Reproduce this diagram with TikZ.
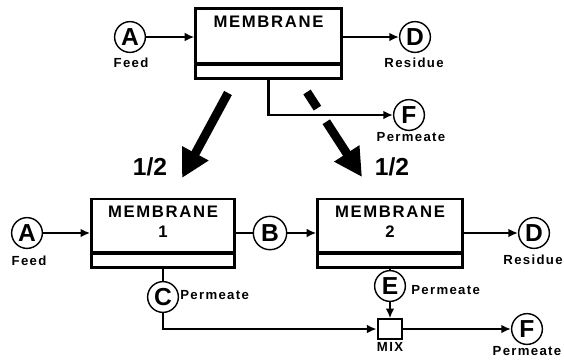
\documentclass[tikz,border=0pt]{standalone}
\usepackage{fontspec}
\setmainfont{Liberation Sans}
\newfontfamily\tagfont[LetterSpace=10]{Liberation Sans}
\usetikzlibrary{arrows.meta,calc}

\tikzset{
  stream/.style={circle, draw, line width=0.8pt, minimum size=17.5pt, inner sep=0pt, font=\bfseries\fontsize{14}{14}\selectfont},
  membox/.style={draw, line width=1.4pt, minimum width=83pt, minimum height=40pt, inner sep=0pt},
  memtext/.style={inner sep=0pt, align=center, font=\tagfont\bfseries\fontsize{9.5}{11.3}\selectfont},
  tag/.style={inner sep=0pt, font=\tagfont\bfseries\fontsize{7.5}{9}\selectfont},
  pipe/.style={line width=1.3pt},
  flow/.style={pipe, -{Latex[length=5.5pt,width=5pt]}},
  fat/.style={line width=5pt},
  half/.style={inner sep=0pt, font=\bfseries\fontsize{14}{14}\selectfont},
}

\begin{document}
\begin{tikzpicture}[x=0.02cm, y=-0.02cm]
  \useasboundingbox (0,0) rectangle (564,360);

  % Single membrane
  \node[membox] (m0) at (268.5,43.5) {};
  \node[memtext, anchor=north] (m0t) at ([yshift=-5pt]m0.north) {MEMBRANE};
  \draw[line width=2.3pt] ([yshift=9.3pt]m0.south west) -- ([yshift=9.3pt]m0.south east);

  \node[stream] (a0) at (130,37) {A};
  \node[tag] (a0t) at (131,63) {Feed};
  \node[stream] (d0) at (415,37) {D};
  \node[tag] (d0t) at (414,63) {Residue};
  \node[stream] (f0) at (409,115) {F};
  \node[tag] (f0t) at (411,137) {Permeate};

  \draw[flow] (a0) -- (a0 -| m0.west);
  \draw[flow] (m0.east |- d0) -- (d0);
  \draw[flow] (m0.south) |- (f0);

  % Split into two halves
  \coordinate (s1) at (228,93);
  \coordinate (t1) at (182,178);
  \coordinate (s2) at (307,92);
  \coordinate (t2) at (362,177);
  \draw[fat, -{Triangle[length=16pt,width=16pt]}] (s1) -- (t1);
  \draw[fat] (s2) -- ($(s2)!0.19!(t2)$);
  \draw[fat, -{Triangle[length=16pt,width=16pt]}] ($(s2)!0.35!(t2)$) -- (t2);
  \node[half] (h1) at (150,167) {1/2};
  \node[half] (h2) at (392,167) {1/2};

  % Two membranes in series
  \node[membox, minimum width=81.5pt, minimum height=39pt] (m1) at (163,233) {};
  \node[memtext, anchor=north] (m1t) at ([yshift=-4.5pt]m1.north) {MEMBRANE\\1};
  \draw[line width=2.3pt] ([yshift=9pt]m1.south west) -- ([yshift=9pt]m1.south east);
  \node[membox, minimum width=82.5pt, minimum height=39pt] (m2) at (390,233) {};
  \node[memtext, anchor=north] (m2t) at ([yshift=-4.5pt]m2.north) {MEMBRANE\\2};
  \draw[line width=2.3pt] ([yshift=9pt]m2.south west) -- ([yshift=9pt]m2.south east);

  \node[stream] (a1) at (27,233) {A};
  \node[tag] (a1t) at (29,261) {Feed};
  \node[stream, minimum size=19pt] (b1) at (270,233) {B};
  \node[stream] (d1) at (534,233) {D};
  \node[tag] (d1t) at (533,260) {Residue};
  \node[stream] (c1) at (163,297) {C};
  \node[tag, anchor=west] (c1t) at (180,295) {Permeate};
  \node[stream] (e1) at (390,286) {E};
  \node[tag, anchor=west] (e1t) at (411,290) {Permeate};
  \node[draw, pipe, minimum width=14pt, minimum height=11pt, inner sep=0pt] (mix) at (390,329) {};
  \node[tag] (mixt) at (390,347) {MIX};
  \node[stream] (f1) at (527,329) {F};
  \node[tag] (f1t) at (527,351) {Permeate};

  \draw[flow] (a1) -- (m1);
  \draw[pipe] (m1) -- (b1);
  \draw[flow] (b1) -- (m2);
  \draw[flow] (m2) -- (d1);
  \draw[pipe] (m1) -- (c1);
  \draw[flow] (c1) |- (mix);
  \draw[pipe] (m2) -- (e1);
  \draw[flow] (e1) -- (mix);
  \draw[flow] (mix) -- (f1);
\end{tikzpicture}
\end{document}
